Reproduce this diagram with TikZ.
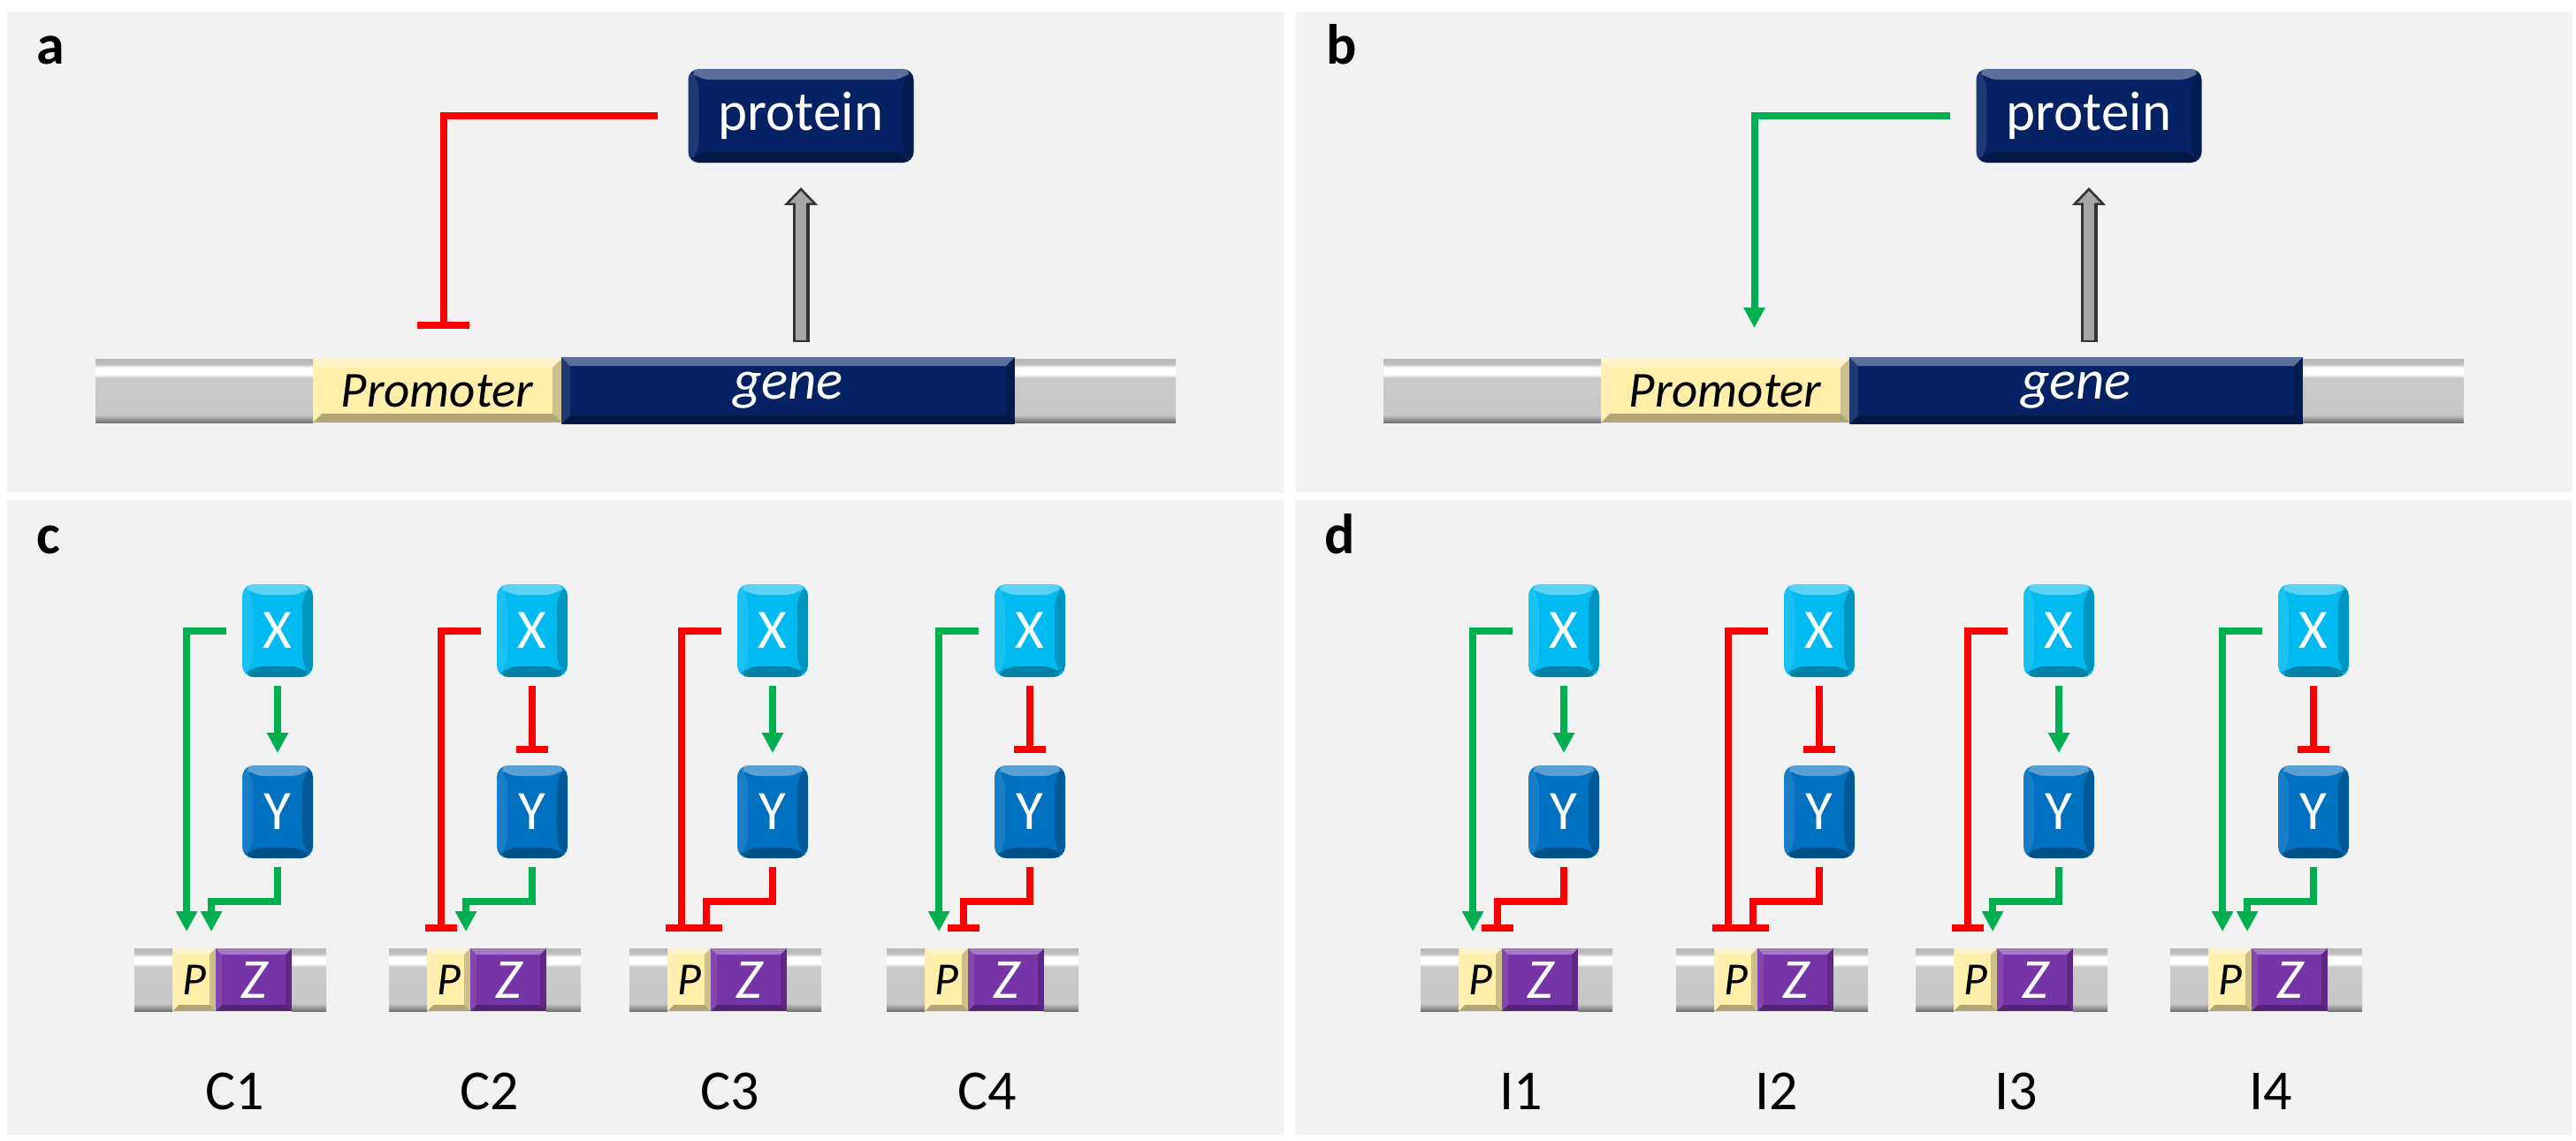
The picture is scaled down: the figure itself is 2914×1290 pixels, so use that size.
\documentclass[tikz,border=0pt]{standalone}
\usepackage{fontspec}
\setmainfont{Carlito}
\usetikzlibrary{arrows.meta,positioning}
\definecolor{panelbg}{RGB}{242,242,242}
\definecolor{xcol}{RGB}{0,186,242}
\definecolor{ycol}{RGB}{0,112,192}
\definecolor{navy}{RGB}{5,35,100}
\definecolor{promcol}{RGB}{255,239,170}
\definecolor{zcol}{RGB}{118,52,166}
\definecolor{actgreen}{RGB}{0,176,80}
\pgfdeclareverticalshading{tube}{100bp}{color(0bp)=(black!55); color(25bp)=(black!55); color(31bp)=(black!22);
  color(60bp)=(black!21); color(63bp)=(white); color(68bp)=(white); color(71bp)=(black!25); color(75bp)=(black!28); color(100bp)=(black!28)}
\tikzset{
  bevel/.style={path picture={
    \path (path picture bounding box.south west) coordinate (bsw)
          (path picture bounding box.north east) coordinate (bne);
    \fill[white,opacity=.35] (bsw |- bne) -- (bne) -- ([shift={(-#1,-#1)}]bne) -- ([shift={(#1,-#1)}]bsw |- bne) -- cycle;
    \fill[black,opacity=.3] (bsw) -- (bne |- bsw) -- ([shift={(-#1,#1)}]bne |- bsw) -- ([shift={(#1,#1)}]bsw) -- cycle;
    \fill[black,opacity=.2] (bne) -- (bne |- bsw) -- ([shift={(-#1,#1)}]bne |- bsw) -- ([shift={(-#1,-#1)}]bne) -- cycle;
    \fill[white,opacity=.1] (bsw) -- (bsw |- bne) -- ([shift={(#1,-#1)}]bsw |- bne) -- ([shift={(#1,#1)}]bsw) -- cycle;
  }},
  bevel/.default=3pt,
  box/.style={inner sep=0, outer sep=0, text=white, font=\fontsize{15.75pt}{18pt}\selectfont},
  xbox/.style={box, fill=xcol, rounded corners=3.25pt, minimum width=20pt, minimum height=26.25pt, bevel=3pt},
  ybox/.style={xbox, fill=ycol},
  navybox/.style={box, fill=navy, rounded corners=3pt, bevel=3pt},
  prombox/.style={box, fill=promcol, text=black, minimum width=70.25pt, minimum height=18pt, bevel=2.5pt,
    font=\fontsize{14.25pt}{17pt}\selectfont\itshape},
  genebox/.style={box, fill=navy, minimum width=128.25pt, minimum height=19pt, bevel=2.5pt,
    font=\fontsize{15.75pt}{18pt}\selectfont\itshape},
  pbox/.style={prombox, minimum width=12.25pt, minimum height=17.75pt, bevel=1.75pt,
    font=\fontsize{13pt}{15pt}\selectfont\itshape},
  zbox/.style={box, fill=zcol, minimum width=21.5pt, minimum height=17.75pt, bevel=1.75pt,
    font=\fontsize{16pt}{18pt}\selectfont\itshape},
  tube/.style={shade, shading=tube, inner sep=0, outer sep=0, minimum height=18pt},
  panellabel/.style={anchor=base west, inner sep=0, font=\fontsize{16pt}{18pt}\selectfont\bfseries},
  motiflabel/.style={anchor=base, inner sep=0, font=\fontsize{16pt}{18pt}\selectfont},
  induce/.style={draw=actgreen, line width=2pt, -{Triangle[width=5.75pt,length=5.75pt]}},
  repress/.style={draw=red, line width=2pt, -{Bar[width=#1]}},
  repress/.default=9pt,
  blockout/.style={line width=4.75pt, black!80, -{Triangle[width=9.25pt,length=5pt]}},
  blockin/.style={line width=3pt, gray!70, -{Triangle[width=6.25pt,length=3.4pt]}, shorten >=1pt, shorten <=0.5pt}
}
\begin{document}
\begin{tikzpicture}[x=0.25pt,y=-0.25pt]
 \fill[white] (0,0) rectangle (2914,1290);
 \useasboundingbox (0,0) rectangle (2914,1290);
 % panels
 \fill[panelbg] (8,13) rectangle (1452,557);
 \fill[panelbg] (1466,13) rectangle (2910,557);
 \fill[panelbg] (8,566) rectangle (1452,1284);
 \fill[panelbg] (1465,566) rectangle (2909,1284);
 \node[panellabel] (la) at (41,72) {a};
 \node[panellabel] (lb) at (1500,72) {b};
 \node[panellabel] (lc) at (41,626) {c};
 \node[panellabel] (ld) at (1498,626) {d};
 % gene and protein, a and b
 \foreach \p/\s in {a/0,b/1457}{
  \begin{scope}[shift={(\s,0)}]
   \node[navybox, minimum width=63.75pt, minimum height=26.5pt] (prot\p) at (906,131) {protein};
   \node[prombox] (prom\p) at (494.5,442) {Promoter};
   \node[genebox, right=0pt of prom\p] (gene\p) {gene};
   \node[tube, minimum width=61.5pt, left=0pt of prom\p] (lt\p) {};
   \node[tube, minimum width=45.5pt, right=0pt of gene\p] (rt\p) {};
   \coordinate (base\p) at (prot\p.south |- gene\p.north);
   \draw[blockout] ([yshift=4.25pt]base\p) -- ([yshift=-7pt]prot\p.south);
   \draw[blockin] ([yshift=4.25pt]base\p) -- ([yshift=-7pt]prot\p.south);
  \end{scope}
 }
 \draw[repress=14.75pt] ([xshift=-8.75pt]prota.west) -| ([xshift=1.75pt,yshift=8.5pt]proma.north);
 \draw[induce] ([xshift=-7.5pt]protb.west) -| ([xshift=8.25pt,yshift=8.75pt]promb.north);
 % feed-forward loops
 \foreach \n/\xc/\xy/\xp/\yp/\lab in {
   c1/314/induce/induce/induce/C1, c2/602/repress/repress/induce/C2,
   c3/874/induce/repress/repress/C3, c4/1165/repress/induce/repress/C4,
   i1/1769/induce/induce/repress/I1, i2/2058/repress/repress/repress/I2,
   i3/2329/induce/repress/induce/I3, i4/2617/repress/induce/induce/I4}{
  \node[xbox] (X\n) at (\xc,713.5) {X};
  \node[ybox, below=25pt of X\n] (Y\n) {Y};
  \node[pbox] (P\n) at (\xc-94.5,1108.5) {P};
  \node[zbox, right=0pt of P\n] (Z\n) {Z};
  \node[tube, minimum width=10.75pt, minimum height=17.75pt, left=0pt of P\n] (L\n) {};
  \node[tube, minimum width=9.75pt, minimum height=17.75pt, right=0pt of Z\n] (R\n) {};
  \node[motiflabel] (lab\n) at (\xc-48,1255) {\lab};
  \draw[\xy] ([yshift=-2.5pt]X\n.south) -- ([yshift=3.5pt]Y\n.north);
  \draw[\xp] ([xshift=-4.5pt]X\n.west) -| ([xshift=-2.1pt,yshift=4.75pt]P\n.north);
  \draw[\yp] ([yshift=-2.5pt]Y\n.south) -- ++(0,39) -| ([xshift=4.9pt,yshift=4.75pt]P\n.north);
 }
\end{tikzpicture}
\end{document}
